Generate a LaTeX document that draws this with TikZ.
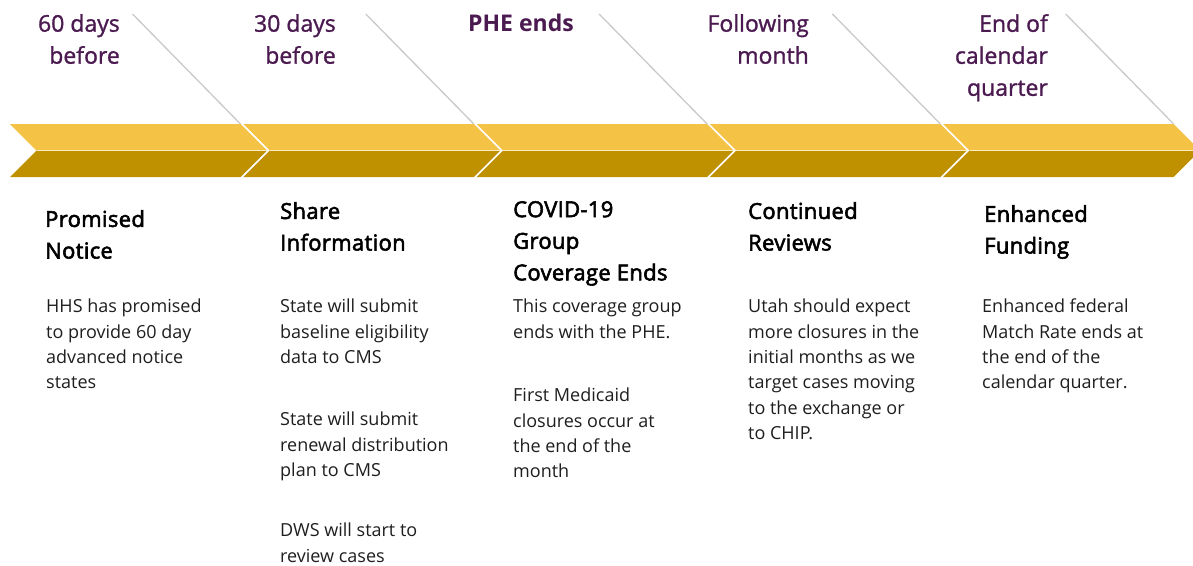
\documentclass[tikz,border=0pt]{standalone}
\usepackage{fontspec}
\setmainfont{Open Sans}
\newfontfamily\titlefont{Open Sans}[FakeBold=2.6, LetterSpace=1.5]
\newfontfamily\headfont{Open Sans}[FakeBold=1.2]

\definecolor{goldhi}{HTML}{F4C244}
\definecolor{goldlo}{HTML}{BF9000}
\definecolor{seam}{HTML}{FCEDC0}
\definecolor{guide}{HTML}{C9C9C9}
\definecolor{plum}{HTML}{4B1A50}
\definecolor{ink}{HTML}{1E1E1E}

\tikzset{
  phase/.style={anchor=north east, inner sep=0pt, align=right, text=plum,
    font=\headfont\fontsize{23}{32}\selectfont},
  phasebold/.style={anchor=north west, inner sep=0pt, align=left, text=plum,
    font=\bfseries\fontsize{23}{32}\selectfont},
  heading/.style={anchor=north west, inner sep=0pt, align=left, text=black,
    font=\titlefont\fontsize{22}{31.6}\selectfont},
  detail/.style={anchor=north west, inner sep=0pt, align=left, text=ink,
    font=\fontsize{18}{25.3}\selectfont},
  guideline/.style={draw=guide, line width=1.3pt},
}

\begin{document}
\begin{tikzpicture}[x=1pt, y=-1pt]
  \useasboundingbox (0,0) rectangle (1193,565);
  \clip (0,0) rectangle (1193,565);

  % chevron band: five segments, light upper half and dark lower half
  \foreach \i in {0,...,4} {
    \pgfmathsetmacro\L{10+233.3*\i}
    \pgfmathsetmacro\R{\L+230.5}
    \fill[goldhi] (\L,124) -- (\R,124) -- ({\R+26.5},150.5) -- ({\L+26.5},150.5) -- cycle;
    \fill[goldlo] ({\L+26.5},150.5) -- ({\R+26.5},150.5) -- (\R,177) -- (\L,177) -- cycle;
    \draw[seam, line width=1.8pt] ({\L+26.5},150.5) -- ({\R+26.5},150.5);
    \coordinate (corner\i) at (\R,124);
    \coordinate (lead\i) at ({\R-108},14);
    \draw[guideline] (lead\i) -- (corner\i);
  }

  % milestones
  \node[phase] (h1) at (120,14) {60 days\\before};
  \node[phase] (h2) at (336,14) {30 days\\before};
  \node[phasebold] (h3) at (468,14) {PHE ends};
  \node[phase] (h4) at (809,14) {Following\\month};
  \node[phase] (h5) at (1048,14) {End of\\calendar\\quarter};

  % step headings
  \node[heading] (t1) at (45,210) {Promised\\Notice};
  \node[heading] (t2) at (280,202) {Share\\Information};
  \node[heading] (t3) at (513,201) {COVID-19\\Group\\Coverage Ends};
  \node[heading] (t4) at (748,202) {Continued\\Reviews};
  \node[heading] (t5) at (984,205) {Enhanced\\Funding};

  % step details
  \node[detail] (d1) at (46,299) {HHS has promised\\to provide 60 day\\advanced notice\\states};
  \node[detail] (d2a) at (280,299) {State will submit\\baseline eligibility\\data to CMS};
  \node[detail] (d2b) at (280,412) {State will submit\\renewal distribution\\plan to CMS};
  \node[detail] (d2c) at (280,523) {DWS will start to\\review cases};
  \node[detail] (d3a) at (513,299) {This coverage group\\ends with the PHE.};
  \node[detail] (d3b) at (513,388) {First Medicaid\\closures occur at\\the end of the\\month};
  \node[detail] (d4) at (748,299) {Utah should expect\\more closures in the\\initial months as we\\target cases moving\\to the exchange or\\to CHIP.};
  \node[detail] (d5) at (982,299) {Enhanced federal\\Match Rate ends at\\the end of the\\calendar quarter.};
\end{tikzpicture}
\end{document}
